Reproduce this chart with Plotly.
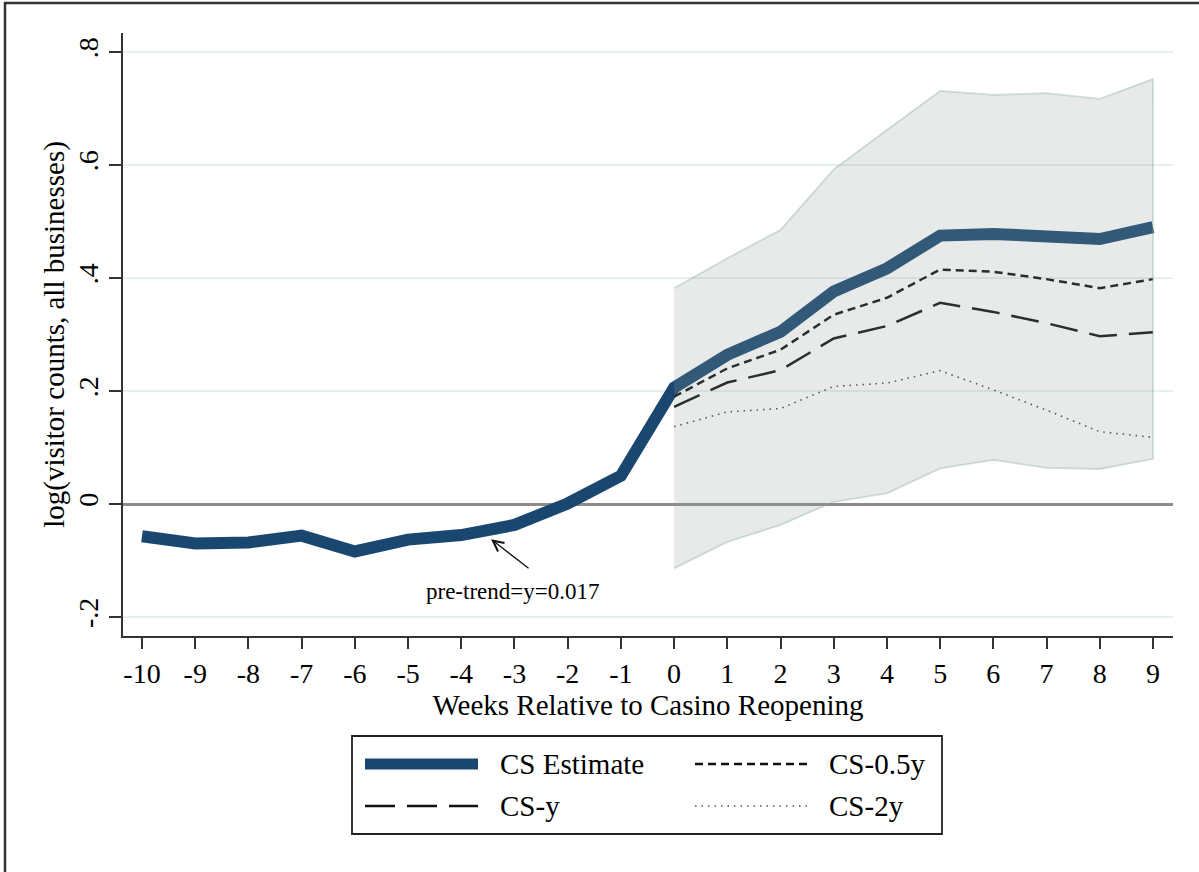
import plotly.graph_objects as go

# ---------------- data ----------------
weeks = list(range(-10, 10))
cs_estimate = [-0.057, -0.070, -0.068, -0.056, -0.084, -0.063, -0.055, -0.037, 0.001, 0.050,
               0.206, 0.264, 0.305, 0.376, 0.417, 0.475, 0.478, 0.474, 0.469, 0.490]
post_weeks = list(range(0, 10))
cs_half_y = [0.190, 0.240, 0.273, 0.335, 0.365, 0.415, 0.411, 0.398, 0.382, 0.398]
cs_y = [0.172, 0.215, 0.237, 0.293, 0.315, 0.356, 0.340, 0.320, 0.297, 0.304]
cs_2y = [0.137, 0.163, 0.169, 0.208, 0.214, 0.236, 0.202, 0.166, 0.128, 0.118]
ci_upper = [0.382, 0.435, 0.485, 0.592, 0.662, 0.731, 0.724, 0.727, 0.717, 0.752]
ci_lower = [-0.114, -0.067, -0.037, 0.004, 0.019, 0.063, 0.078, 0.064, 0.062, 0.080]

y_tickvals = [-0.2, 0, 0.2, 0.4, 0.6, 0.8]
y_ticktext = ["-.2", "0", ".2", ".4", ".6", ".8"]
x_ticktext = [str(w) for w in weeks]

legend_names = ["CS Estimate", "CS-0.5y", "CS-y", "CS-2y"]

NAVY = "#1a476f"
SERIF = "Liberation Serif"

# plot area in pixels (for paper-coordinate helpers)
W, H = 1199, 872
L, R, T, B = 123, 1173, 33, 636


def px(X):
    return (X - L) / (R - L)


def py(Y):
    return (B - Y) / (B - T)


fig = go.Figure()

fig.add_trace(go.Scatter(x=weeks, y=cs_estimate, mode="lines", name=legend_names[0],
                         line=dict(color=NAVY, width=12)))
fig.add_trace(go.Scatter(x=post_weeks, y=cs_half_y, mode="lines", name=legend_names[1],
                         line=dict(color="#111111", width=2.5, dash="8px,5px")))
fig.add_trace(go.Scatter(x=post_weeks, y=cs_y, mode="lines", name=legend_names[2],
                         line=dict(color="#111111", width=2.5, dash="28px,12px")))
fig.add_trace(go.Scatter(x=post_weeks, y=cs_2y, mode="lines", name=legend_names[3],
                         line=dict(color="#444444", width=1.6, dash="1.5px,5px")))
# confidence band (drawn on top, semi-transparent)
fig.add_trace(go.Scatter(x=post_weeks + post_weeks[::-1], y=ci_upper + ci_lower[::-1],
                         mode="lines", fill="toself", fillcolor="rgba(143,158,152,0.21)",
                         line=dict(color="rgba(130,165,150,0.35)", width=1.8), name="CI"))

# annotation with arrow
fig.add_annotation(x=-3.44, y=-0.0625, ax=-2.707, ay=-0.1156, xref="x", yref="y",
                   axref="x", ayref="y", text="", showarrow=True, arrowhead=5,
                   arrowsize=1.6, arrowwidth=1.3, arrowcolor="#111111",
                   standoff=0, startstandoff=0)
fig.add_annotation(x=-3.045, y=-0.155, xref="x", yref="y", text="pre-trend=y=0.017",
                   showarrow=False, font=dict(family=SERIF, size=23, color="black"))

shapes = []
# outer frame (left and top edges)
shapes.append(dict(type="line", xref="paper", yref="paper", x0=px(5), x1=px(5),
                   y0=py(2), y1=py(880), line=dict(color="#333333", width=2.5)))
shapes.append(dict(type="line", xref="paper", yref="paper", x0=px(4), x1=px(1205),
                   y0=py(3), y1=py(3), line=dict(color="#333333", width=2.5)))
# legend box
shapes.append(dict(type="rect", xref="paper", yref="paper", x0=px(352), x1=px(942),
                   y0=py(736), y1=py(834), line=dict(color="#222222", width=1.8),
                   fillcolor="white"))
# legend keys
shapes.append(dict(type="line", xref="paper", yref="paper", x0=px(365), x1=px(478),
                   y0=py(764), y1=py(764), line=dict(color=NAVY, width=11)))
shapes.append(dict(type="line", xref="paper", yref="paper", x0=px(695), x1=px(807),
                   y0=py(764), y1=py(764), line=dict(color="#111111", width=2.5, dash="8px,5px")))
shapes.append(dict(type="line", xref="paper", yref="paper", x0=px(365), x1=px(478),
                   y0=py(806), y1=py(806), line=dict(color="#111111", width=2.5, dash="30px,12px")))
shapes.append(dict(type="line", xref="paper", yref="paper", x0=px(695), x1=px(807),
                   y0=py(806), y1=py(806), line=dict(color="#555555", width=1.5, dash="1.5px,5px")))
fig.update_layout(shapes=shapes)

legend_text_pos = [(498, 764), (827, 764), (498, 806), (827, 806)]
for name, (X, Y) in zip(legend_names, legend_text_pos):
    fig.add_annotation(x=px(X), y=py(Y), xref="paper", yref="paper", text=name,
                       showarrow=False, xanchor="left", yanchor="middle",
                       font=dict(family=SERIF, size=29, color="black"))

fig.update_layout(
    width=W, height=H,
    margin=dict(l=L, r=W - R, t=T, b=H - B, autoexpand=False),
    paper_bgcolor="white", plot_bgcolor="white",
    showlegend=False,
    font=dict(family=SERIF, size=28, color="black"),
)

fig.update_xaxes(
    range=[-10.357, 9.376], tickvals=weeks, ticktext=x_ticktext,
    showline=True, linecolor="#333333", linewidth=2,
    ticks="outside", ticklen=11, tickwidth=2, tickcolor="#333333",
    showgrid=False, zeroline=False,
    tickfont=dict(family=SERIF, size=28, color="black"),
    title=dict(text="Weeks Relative to Casino Reopening", standoff=4,
               font=dict(family=SERIF, size=29, color="black")),
)
fig.update_yaxes(
    range=[-0.2336, 0.8336], tickvals=y_tickvals, ticktext=y_ticktext, tickangle=-90,
    showline=True, linecolor="#333333", linewidth=2,
    ticks="outside", ticklen=12, tickwidth=2, tickcolor="#333333",
    showgrid=True, gridcolor="#e6eff1", gridwidth=2,
    zeroline=True, zerolinecolor="#8c8c8c", zerolinewidth=2.5,
    tickfont=dict(family=SERIF, size=28, color="black"),
    title=dict(text="log(visitor counts, all businesses)", standoff=0,
               font=dict(family=SERIF, size=29, color="black")),
)

fig.write_html("out.html")
